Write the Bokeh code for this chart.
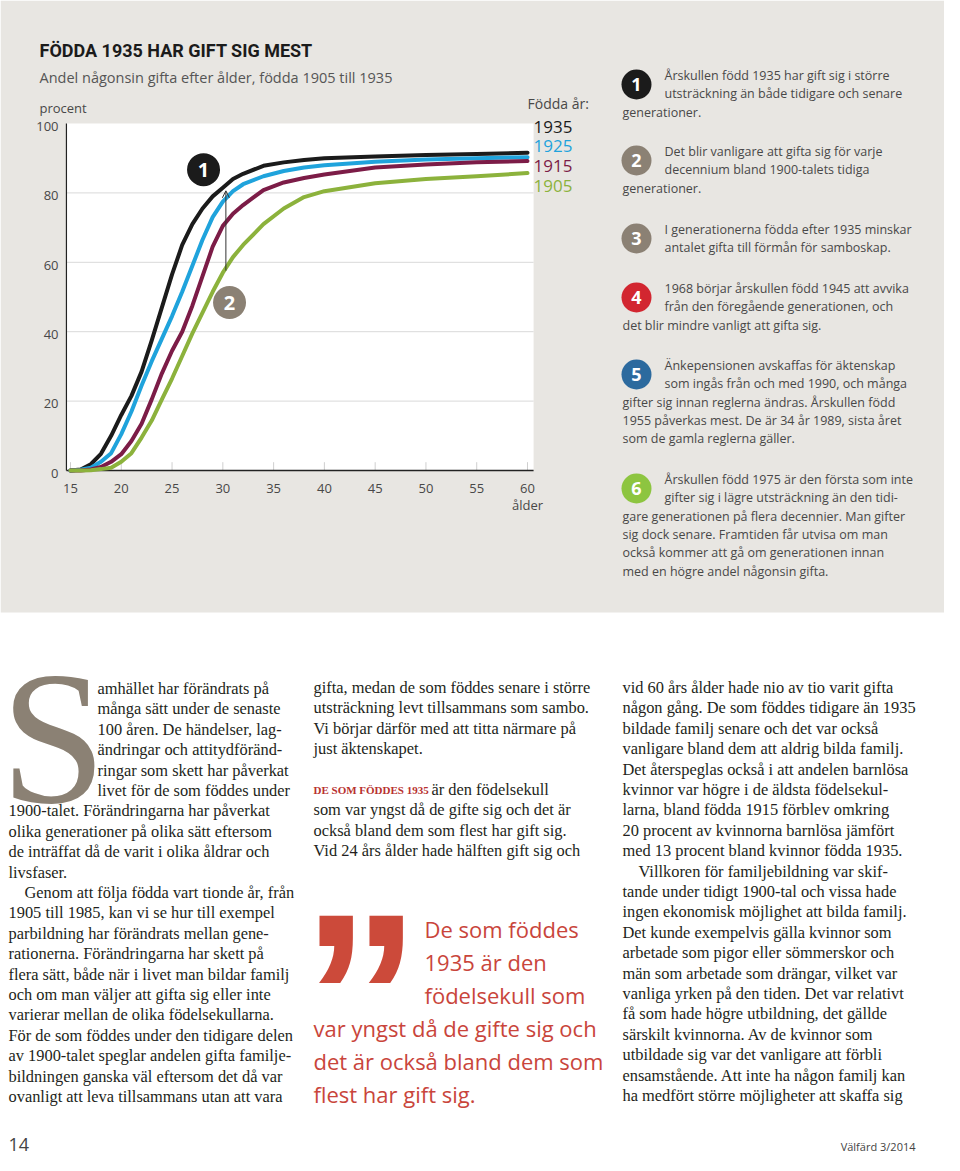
from bokeh.plotting import figure
from bokeh.models import Range1d, Arrow, OpenHead
from bokeh.embed import file_html
from bokeh.resources import INLINE
from bokeh.core.properties import value

# ---------------- data ----------------
ages = [15, 16, 17, 18, 19, 20, 21, 22, 23, 24, 25, 26, 27, 28, 29, 30, 31, 32, 34, 36, 38, 40, 45, 50, 55, 60]
born_1935 = [0, 0.3, 1.8, 4.8, 10, 16, 21.5, 28.5, 37.5, 47, 56.5, 65, 71, 75.5, 79, 81.5, 84, 85.5, 87.8, 88.8, 89.5, 90, 90.5, 90.9, 91.2, 91.6]
born_1925 = [0, 0.2, 0.8, 2.5, 5, 10.5, 17, 24.5, 31.5, 38, 44.5, 51.5, 59, 66.5, 73, 77.5, 80.5, 82.5, 84.8, 86.3, 87.3, 88, 89, 89.6, 90, 90.3]
born_1915 = [0, 0, 0.3, 1, 2.5, 4.7, 8.5, 13.5, 20.5, 28, 34.5, 40, 47.5, 56, 64.5, 70.5, 74, 76.5, 80.8, 83, 84.3, 85.3, 87.3, 88.2, 88.8, 89.2]
born_1905 = [0, 0, 0.1, 0.4, 0.8, 2.5, 5, 9.5, 14.4, 20.5, 26.5, 33, 39.5, 45.5, 51.5, 57, 61.5, 65, 71, 75.5, 78.8, 80.5, 82.8, 84, 84.8, 85.7]
cohorts = ["1935", "1925", "1915", "1905"]
x_ticks = [15, 20, 25, 30, 35, 40, 45, 50, 55, 60]
y_ticks = [0, 20, 40, 60, 80, 100]
grid_vals = [20, 40, 60, 80]

title = "FÖDDA 1935 HAR GIFT SIG MEST"
subtitle = "Andel någonsin gifta efter ålder, födda 1905 till 1935"
y_label = "procent"
x_label = "ålder"
legend_title = "Födda år:"

notes = [
    ["Årskullen född 1935 har gift sig i större", "utsträckning än både tidigare och senare", "generationer."],
    ["Det blir vanligare att gifta sig för varje", "decennium bland 1900-talets tidiga", "generationer."],
    ["I generationerna födda efter 1935 minskar", "antalet gifta till förmån för samboskap."],
    ["1968 börjar årskullen född 1945 att avvika", "från den föregående generationen, och", "det blir mindre vanligt att gifta sig."],
    ["Änkepensionen avskaffas för äktenskap", "som ingås från och med 1990, och många", "gifter sig innan reglerna ändras. Årskullen född",
     "1955 påverkas mest. De är 34 år 1989, sista året", "som de gamla reglerna gäller."],
    ["Årskullen född 1975 är den första som inte", "gifter sig i lägre utsträckning än den tidi-", "gare generationen på flera decennier. Man gifter",
     "sig dock senare. Framtiden får utvisa om man", "också kommer att gå om generationen innan", "med en högre andel någonsin gifta."],
]
note_numbers = ["1", "2", "3", "4", "5", "6"]

col1 = ["amhället har förändrats på", "många sätt under de senaste", "100 åren. De händelser, lag-", "ändringar och attitydföränd-",
        "ringar som skett har påverkat", "livet för de som föddes under", "1900-talet. Förändringarna har påverkat",
        "olika generationer på olika sätt eftersom", "de inträffat då de varit i olika åldrar och", "livsfaser.",
        "Genom att följa födda vart tionde år, från", "1905 till 1985, kan vi se hur till exempel",
        "parbildning har förändrats mellan gene-", "rationerna. Förändringarna har skett på",
        "flera sätt, både när i livet man bildar familj", "och om man väljer att gifta sig eller inte",
        "varierar mellan de olika födelsekullarna.", "För de som föddes under den tidigare delen",
        "av 1900-talet speglar andelen gifta familje-", "bildningen ganska väl eftersom det då var",
        "ovanligt att leva tillsammans utan att vara"]
col2 = ["gifta, medan de som föddes senare i större", "utsträckning levt tillsammans som sambo.",
        "Vi börjar därför med att titta närmare på", "just äktenskapet.", "",
        "är den födelsekull", "som var yngst då de gifte sig och det är",
        "också bland dem som flest har gift sig.", "Vid 24 års ålder hade hälften gift sig och"]
col2_lead = "DE SOM FÖDDES 1935"
col3 = ["vid 60 års ålder hade nio av tio varit gifta", "någon gång. De som föddes tidigare än 1935",
        "bildade familj senare och det var också", "vanligare bland dem att aldrig bilda familj.",
        "Det återspeglas också i att andelen barnlösa", "kvinnor var högre i de äldsta födelsekul-",
        "larna, bland födda 1915 förblev omkring", "20 procent av kvinnorna barnlösa jämfört",
        "med 13 procent bland kvinnor födda 1935.", "Villkoren för familjebildning var skif-",
        "tande under tidigt 1900-tal och vissa hade", "ingen ekonomisk möjlighet att bilda familj.",
        "Det kunde exempelvis gälla kvinnor som", "arbetade som pigor eller sömmerskor och",
        "män som arbetade som drängar, vilket var", "vanliga yrken på den tiden. Det var relativt",
        "få som hade högre utbildning, det gällde", "särskilt kvinnorna. Av de kvinnor som",
        "utbildade sig var det vanligare att förbli", "ensamstående. Att inte ha någon familj kan",
        "ha medfört större möjligheter att skaffa sig"]
quote = ["De som föddes", "1935 är den", "födelsekull som", "var yngst då de gifte sig och",
         "det är också bland dem som", "flest har gift sig."]
page_no = "14"
mag = "Välfärd 3/2014"

# ---------------- styles ----------------
SANS = value("Open Sans")
SERIF = value("Liberation Serif")
line_colors = ["#1b1b1b", "#1fa3dc", "#7c1c47", "#8cb23c"]
note_colors = ["#1b1b1b", "#8b8174", "#8b8174", "#d22630", "#2c6a9e", "#8dc540"]
PANEL = "#e8e6e2"
TXT = "#484848"
BODY = "#231f20"
RED = "#c9453b"
W, H = 944, 1155

p = figure(width=W, height=H, x_range=Range1d(0, W), y_range=Range1d(H, 0),
           output_backend="svg", toolbar_location=None, min_border=0)
p.axis.visible = False
p.grid.visible = False
p.outline_line_color = None
p.background_fill_color = "white"
p.border_fill_color = "white"


def span(px0, v0, px1, v1, lo, hi):
    k = (v1 - v0) / (px1 - px0)
    return v0 + (lo - px0) * k, v0 + (hi - px0) * k


a0, a1 = span(70, 15, 527, 60, 0, W)
q0, q1 = span(470, 0, 123, 100, H, 0)
p.extra_x_ranges = {"age": Range1d(a0, a1)}
p.extra_y_ranges = {"pct": Range1d(q0, q1)}
C = dict(x_range_name="age", y_range_name="pct")

# gray panel
p.quad(left=0, right=W, top=0, bottom=612, color=PANEL, line_color=None)

# plot area
x_lo, x_hi = 14.6, 60.6
p.quad(left=x_lo, right=x_hi, bottom=0, top=100, color="white", line_color=None, **C)
p.segment(x0=[x_lo] * len(grid_vals), x1=[x_hi] * len(grid_vals), y0=grid_vals, y1=grid_vals,
          line_color="#d9d9d9", line_width=1, **C)
p.segment(x0=x_ticks, x1=x_ticks, y0=[0] * len(x_ticks), y1=[2.4] * len(x_ticks),
          line_color="#cfcfcf", line_width=1, **C)
p.segment(x0=[x_lo], x1=[x_lo], y0=[0], y1=[100], line_color="#222222", line_width=1.2, **C)
p.segment(x0=[x_lo], x1=[x_hi], y0=[0], y1=[0], line_color="#222222", line_width=1.6, **C)

series = [born_1935, born_1925, born_1915, born_1905]
for vals, col in zip(series, line_colors):
    p.line(ages, vals, line_color=col, line_width=4, line_join="round", line_cap="round", **C)

# tick labels
p.text(x=x_ticks, y=[-5.2] * len(x_ticks), text=[str(t) for t in x_ticks], text_font=SANS,
       text_font_size="13px", text_color=TXT, text_align="center", text_baseline="middle", **C)
p.text(x=[60], y=[-10], text=[x_label], text_font=SANS, text_font_size="13px", text_color=TXT,
       text_align="center", text_baseline="middle", **C)
p.text(x=[13.82] * len(y_ticks), y=[v - 0.8 for v in y_ticks], text=[str(t) for t in y_ticks],
       text_font=SANS, text_font_size="13px", text_color=TXT, text_align="right", text_baseline="middle", **C)
p.text(x=[39], y=[107], text=[y_label], text_font=SANS, text_font_size="13px", text_color=TXT,
       text_baseline="middle")

# title
p.text(x=[39], y=[50], text=[title], text_font=value("Roboto"), text_font_style="bold",
       text_font_size="18px", text_color="#1b1b1b", text_baseline="middle")
p.text(x=[39], y=[77], text=[subtitle], text_font=SANS, text_font_size="14.5px", text_color="#555555",
       text_baseline="middle")

# legend
p.text(x=[527], y=[103], text=[legend_title], text_font=SANS, text_font_size="14px", text_color=TXT,
       text_baseline="middle")
p.text(x=[533] * 4, y=[126 + 19.7 * i for i in range(4)], text=cohorts, text_font=SANS,
       text_font_size="17px", text_color=line_colors, text_baseline="middle")

# chart markers
p.scatter(x=[28.1, 30.66], y=[86.7, 48.4], size=33, color=["#1b1b1b", "#8b8174"], line_color=None, **C)
p.text(x=[28.1, 30.66], y=[86.7, 48.4], text=["1", "2"], text_font=SANS, text_font_style="bold",
       text_font_size="20px", text_color="white", text_align="center", text_baseline="middle", **C)
p.add_layout(Arrow(end=OpenHead(size=7, line_width=1, line_color="#333333"), x_start=30.3, y_start=57.6,
                   x_end=30.3, y_end=80.6, line_color="#333333", line_width=1, **C))

# notes on the right
starts = [75, 151, 229, 288, 365, 479]
for num, col, lines, y0 in zip(note_numbers, note_colors, notes, starts):
    xs = [664 if i < 2 else 622 for i in range(len(lines))]
    ys = [y0 + 18.3 * i for i in range(len(lines))]
    p.text(x=xs, y=ys, text=lines, text_font=SANS, text_font_size="12.5px", text_color=TXT,
           text_baseline="middle")
    p.scatter(x=[636], y=[y0 + 9], size=30, color=col, line_color=None)
    p.text(x=[636], y=[y0 + 9], text=[num], text_font=SANS, text_font_style="bold", text_font_size="18px",
           text_color="white", text_align="center", text_baseline="middle")

# body text
LS = 20.4
p.text(x=[0], y=[737], text=["S"], text_font=SERIF, text_font_size="190px", text_color="#8b8174",
       text_baseline="middle")
xs1 = [97 if i < 6 else (24 if i == 10 else 8) for i in range(len(col1))]
p.text(x=xs1, y=[688 + LS * i for i in range(len(col1))], text=col1, text_font=SERIF, text_font_size="16.4px",
       text_color=BODY, text_baseline="middle")
xs2 = [313 if i != 5 else 431 for i in range(len(col2))]
p.text(x=xs2, y=[687 + LS * i for i in range(len(col2))], text=col2, text_font=SERIF, text_font_size="16.4px",
       text_color=BODY, text_baseline="middle")
p.text(x=[313], y=[687 + LS * 5], text=[col2_lead], text_font=SERIF, text_font_style="bold",
       text_font_size="11px", text_color="#b8312f", text_baseline="middle")
xs3 = [638 if i == 9 else 622 for i in range(len(col3))]
p.text(x=xs3, y=[687 + LS * i for i in range(len(col3))], text=col3, text_font=SERIF, text_font_size="16.4px",
       text_color=BODY, text_baseline="middle")

# quote
p.text(x=[301], y=[996], text=["\u201d"], text_font=value("Liberation Sans"), text_font_style="bold",
       text_font_size="238px", text_color="#cc4a3a", text_baseline="middle")
xq = [424, 424, 424, 313, 313, 313]
p.text(x=xq, y=[928 + 33 * i for i in range(len(quote))], text=quote, text_font=SANS, text_font_size="22px",
       text_color=RED, text_baseline="middle")

# footer
p.text(x=[8], y=[1144], text=[page_no], text_font=SANS, text_font_size="18px", text_color="#444444",
       text_baseline="middle")
p.text(x=[915], y=[1146], text=[mag], text_font=SANS, text_font_size="11px", text_color="#444444",
       text_align="right", text_baseline="middle")

open("out.html", "w").write(file_html(p, INLINE))
